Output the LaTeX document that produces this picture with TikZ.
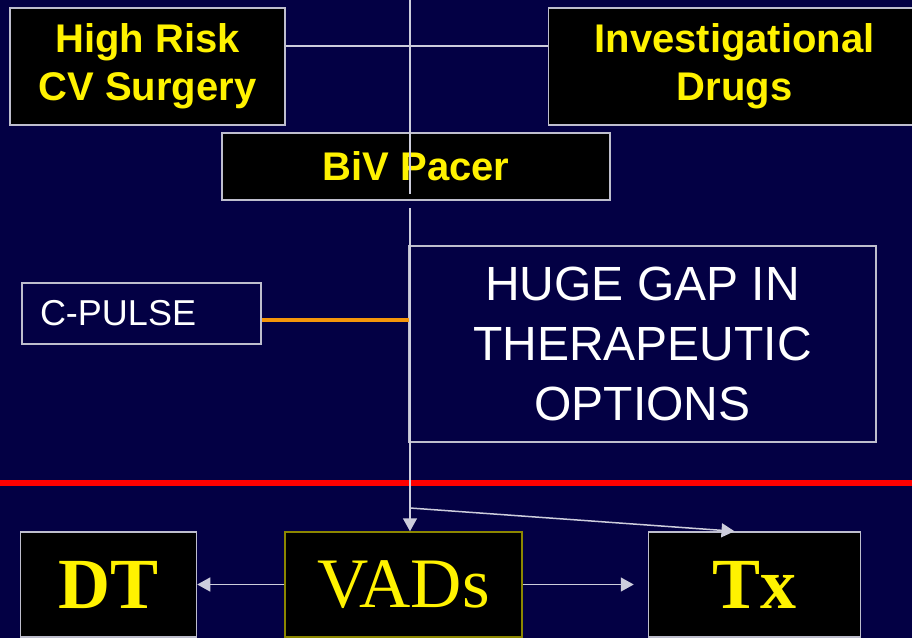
\documentclass[tikz,border=0pt]{standalone}
\usepackage{fontspec}
\setmainfont{Liberation Sans}
\newfontfamily\timesfont{Liberation Serif}
\usepackage{tikz}
\usetikzlibrary{arrows.meta, positioning, calc}
\usepackage{xcolor}
\definecolor{bgnavy}{RGB}{3,0,68}
\definecolor{boxgray}{RGB}{190,190,205}
\definecolor{linegray}{RGB}{205,205,220}
\definecolor{vadolive}{RGB}{140,135,0}
\definecolor{pulseorange}{RGB}{245,150,10}
\tikzset{
	option/.style={rectangle, draw=boxgray, fill=black, line width=1.5pt,
		inner sep=0pt, text=yellow, align=center,
		font=\fontsize{40}{48}\selectfont\bfseries},
	gapbox/.style={rectangle, draw=boxgray, line width=1.5pt,
		inner sep=0pt, text=white, align=center,
		font=\fontsize{48}{60}\selectfont},
	devicebox/.style={rectangle, draw=boxgray, line width=1.5pt,
		inner xsep=18pt, inner ysep=0pt, text=white, align=left,
		font=\fontsize{36}{42}\selectfont},
	outcome/.style={rectangle, draw=boxgray, fill=black, line width=1.5pt,
		inner sep=0pt, text=yellow, minimum height=105pt,
		font=\timesfont\fontsize{72}{80}\selectfont\bfseries},
	link/.style={draw=linegray, line width=1.5pt},
	myarrow/.style={-{Triangle[length=13pt, width=14pt]}, draw=linegray,
		fill=linegray, line width=1.5pt},
	redline/.style={draw=red, line width=6pt},
	pulseline/.style={draw=pulseorange, line width=3.5pt}
}

\begin{document}
\begin{tikzpicture}[x=1pt, y=-1pt]
	\fill[bgnavy] (0,0) rectangle (912,638);
	\useasboundingbox (0,0) rectangle (912,638);

	% options above the line
	\node[option, minimum width=275pt, minimum height=117pt] (risk) at (147.5,66.5)
	{High Risk\\CV Surgery};
	\node[option, minimum width=372pt, minimum height=117pt, right=262pt of risk] (drugs)
	{Investigational\\Drugs};
	\node[option, minimum width=388pt, minimum height=67pt] (biv) at (416,166.5)
	{BiV Pacer};
	\node[devicebox, text width=203pt, minimum height=61pt] (cpulse) at (141.5,313.5)
	{C-PULSE};
	\node[gapbox, minimum width=467pt, minimum height=196pt] (gap) at (642.5,344)
	{HUGE GAP IN\\THERAPEUTIC\\OPTIONS};

	% end-stage options below the line
	\node[outcome, minimum width=237pt, draw=vadolive, font=\timesfont\fontsize{71}{80}\selectfont]
	(vads) at (403.5,584.5) {VADs};
	\node[outcome, minimum width=176pt, left=87pt of vads] (dt) {DT};
	\node[outcome, minimum width=212pt, right=125pt of vads] (tx) {Tx};

	\coordinate (top) at (410,0);
	\coordinate (stem) at (410,208);
	\coordinate (fork) at (410,508);
	\coordinate (redL) at (0,483);
	\coordinate (redR) at (912,483);

	\draw[link] ([yshift=20.5pt]risk.east) -- ([yshift=20.5pt]drugs.west);
	\draw[link] (top) -- ([yshift=7pt]top |- biv.south);
	\draw[pulseline] ([yshift=-6.5pt]cpulse.east) -- ([yshift=-6.5pt]cpulse.east -| stem);
	\draw[redline] (redL) -- (redR);
	\draw[myarrow] (stem) -- (stem |- vads.north);
	\draw[myarrow] (fork) -- ([xshift=-20pt]tx.north);
	\draw[myarrow] (vads) -- (dt);
	\draw[myarrow, shorten >=14pt] (vads) -- (tx);
\end{tikzpicture}
\end{document}
